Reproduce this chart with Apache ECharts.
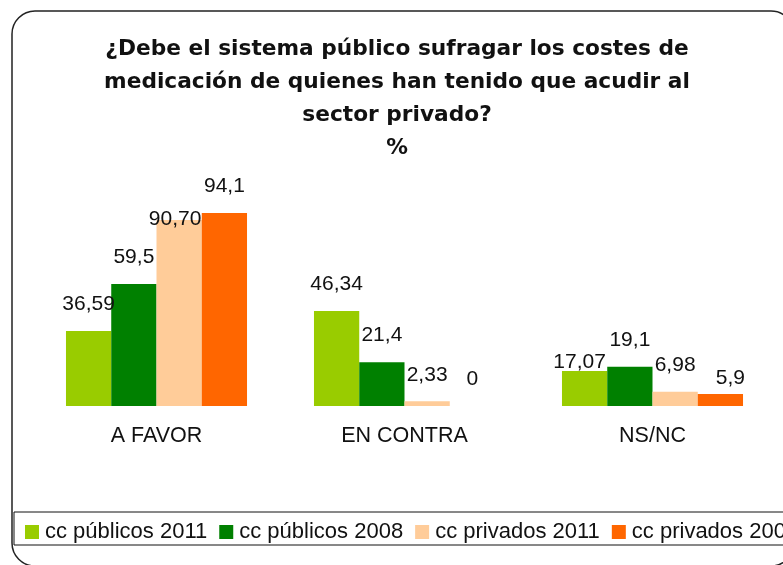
<!DOCTYPE html>
<html>
<head>
<meta charset="utf-8">
<script src="https://cdn.jsdelivr.net/npm/echarts@6/dist/echarts.min.js"></script>
<style>
html, body { margin: 0; padding: 0; background: #fff; }
#chart { width: 783px; height: 565px; }
</style>
</head>
<body>
<div id="chart"></div>
<script>
var categories = ['A FAVOR', 'EN CONTRA', 'NS/NC'];
var seriesNames = ['cc públicos 2011', 'cc públicos 2008', 'cc privados 2011', 'cc privados 2008'];
var publicos2011 = [36.59, 46.34, 17.07];
var publicos2008 = [59.5, 21.4, 19.1];
var privados2011 = [90.70, 2.33, 6.98];
var privados2008 = [94.1, 0, 5.9];
// labels as printed in the picture
var labels2011pub = ['36,59', '46,34', '17,07'];
var labels2008pub = ['59,5', '21,4', '19,1'];
var labels2011priv = ['90,70', '2,33', '6,98'];
var labels2008priv = ['94,1', '0', '5,9'];

var colors = ['#99cc00', '#008000', '#ffcc99', '#ff6600'];
var labelFont = 'Liberation Sans, Arial, sans-serif';

// a few labels were moved by hand in the original
var labelOffsets = {
    '2-0': [-4, 26],
    '0-2': [-5, 18],
    '3-2': [10, 11]
};

var chart = echarts.init(document.getElementById('chart'));

var makeSeries = function(idx, values, texts) {
    return {
        name: seriesNames[idx],
        type: 'bar',
        barGap: '0%',
        barCategoryGap: '27%',
        itemStyle: { color: colors[idx] },
        label: {
            show: true,
            position: 'top',
            distance: 16,
            color: '#111',
            fontSize: 21,
            fontFamily: labelFont,
            formatter: function(p) { return texts[p.dataIndex]; }
        },
        data: values.map(function(v, i) {
            var off = labelOffsets[idx + '-' + i];
            return off ? { value: v, label: { offset: off } } : v;
        })
    };
};

var option = {
    animation: false,
    title: {
        text: '¿Debe el sistema público sufragar los costes de\nmedicación de quienes han tenido que acudir al\nsector privado?\n%',
        left: 392,
        top: 28,
        textAlign: 'center',
        textStyle: {
            fontFamily: 'DejaVu Sans, sans-serif',
            fontWeight: 'bold',
            fontSize: 21.7,
            lineHeight: 33,
            color: '#111',
            align: 'center'
        }
    },
    legend: {
        left: 20,
        top: 516,
        width: 1200,
        itemWidth: 14,
        itemHeight: 14,
        itemGap: 12,
        icon: 'rect',
        data: seriesNames,
        textStyle: { fontFamily: labelFont, fontSize: 22, color: '#111', padding: [0, 0, 0, 1] }
    },
    grid: { left: 32.5, right: 6.5, top: 201, bottom: 159 },
    xAxis: {
        type: 'category',
        data: categories,
        axisLine: { show: false },
        axisTick: { show: false },
        axisLabel: { margin: 19, fontSize: 21.5, fontFamily: labelFont, color: '#111' }
    },
    yAxis: {
        type: 'value',
        min: 0,
        max: 100,
        show: false,
        splitLine: { show: false }
    },
    graphic: [
        {
            type: 'rect',
            shape: { x: 12, y: 11, width: 782, height: 555, r: 23 },
            style: { fill: 'none', stroke: '#222', lineWidth: 1.5 },
            z: 10
        },
        {
            type: 'rect',
            shape: { x: 14, y: 512, width: 800, height: 33 },
            style: { fill: 'none', stroke: '#111', lineWidth: 1 },
            z: 10
        }
    ],
    series: [
        makeSeries(0, publicos2011, labels2011pub),
        makeSeries(1, publicos2008, labels2008pub),
        makeSeries(2, privados2011, labels2011priv),
        makeSeries(3, privados2008, labels2008priv)
    ]
};
chart.setOption(option);
</script>
</body>
</html>
